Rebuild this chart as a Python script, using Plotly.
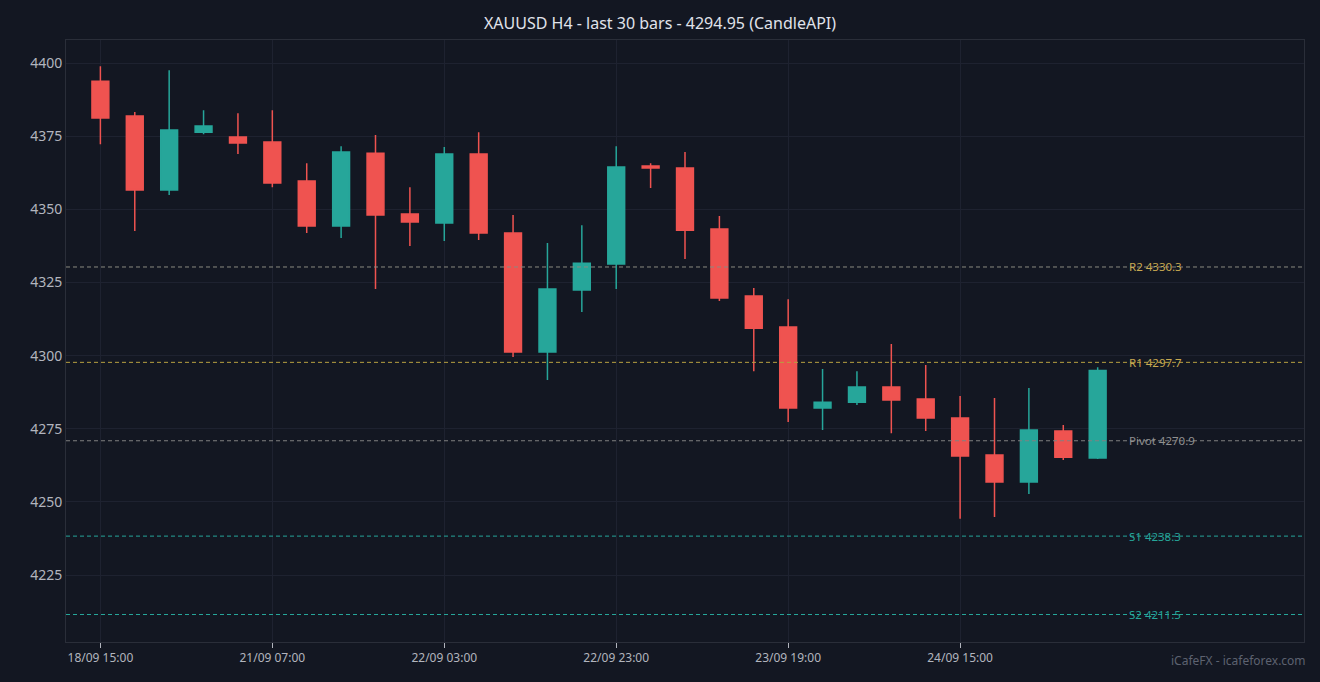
import plotly.graph_objects as go

opens  = [4393.8, 4381.9, 4356.6, 4376.4, 4374.7, 4373.0, 4359.7, 4344.3, 4369.2, 4348.4,
          4345.3, 4368.9, 4341.9, 4301.2, 4322.4, 4331.3, 4364.8, 4364.1, 4343.3, 4320.4,
          4309.8, 4282.1, 4284.1, 4289.3, 4285.2, 4278.7, 4266.0, 4256.8, 4274.2, 4265.0]
highs  = [4398.9, 4383.3, 4397.6, 4383.9, 4382.9, 4383.9, 4365.8, 4371.6, 4375.4, 4357.6,
          4371.3, 4376.4, 4348.1, 4338.5, 4344.6, 4371.6, 4365.8, 4369.6, 4347.7, 4323.1,
          4319.3, 4295.4, 4294.7, 4304.0, 4296.8, 4286.2, 4285.5, 4288.9, 4276.3, 4296.0]
lows   = [4372.3, 4342.6, 4354.9, 4375.7, 4368.9, 4357.6, 4341.9, 4340.2, 4322.8, 4337.5,
          4339.2, 4339.5, 4299.5, 4291.7, 4314.9, 4322.8, 4357.3, 4333.0, 4318.7, 4294.7,
          4277.3, 4274.6, 4283.1, 4273.5, 4274.2, 4244.2, 4244.8, 4252.7, 4264.3, 4264.7]
closes = [4381.2, 4356.6, 4377.1, 4378.5, 4372.7, 4359.0, 4344.3, 4369.6, 4348.1, 4345.7,
          4368.9, 4341.9, 4301.2, 4322.8, 4331.6, 4364.5, 4364.1, 4342.9, 4319.7, 4309.4,
          4282.1, 4284.1, 4289.3, 4284.8, 4278.7, 4265.7, 4256.8, 4274.6, 4265.3, 4294.95]

tick_idx = [0, 5, 10, 15, 20, 25]
tick_labels = ["18/09 15:00", "21/09 07:00", "22/09 03:00", "22/09 23:00", "23/09 19:00", "24/09 15:00"]

level_names = ["R2", "R1", "Pivot", "S1", "S2"]
level_values = [4330.3, 4297.7, 4270.9, 4238.3, 4211.5]
level_line_colors = ["#8a8a80", "#b8a040", "#808080", "#26a69a", "#26a69a"]
level_text_colors = ["#c8a951", "#c8a951", "#909090", "#26a69a", "#26a69a"]

bg = "#131722"
x = list(range(len(opens)))

fig = go.Figure()
fig.add_trace(go.Candlestick(
    x=x, open=opens, high=highs, low=lows, close=closes,
    increasing=dict(line=dict(color="#26a69a", width=1.5), fillcolor="#26a69a"),
    decreasing=dict(line=dict(color="#ef5350", width=1.5), fillcolor="#ef5350"),
    whiskerwidth=0, showlegend=False))

for name, val, lc, tc in zip(level_names, level_values, level_line_colors, level_text_colors):
    fig.add_hline(y=val, line=dict(color=lc, width=1, dash="4px,3px"))
    fig.add_annotation(x=29.85, y=val, text=f"{name} {val}", showarrow=False,
                       xanchor="left", font=dict(color=tc, size=11.5))

fig.add_annotation(x=1, y=0, xref="paper", yref="paper", yshift=-29, xshift=4,
                   text="iCafeFX - icafeforex.com", showarrow=False,
                   xanchor="right", font=dict(color="#5d6270", size=12))

fig.update_layout(
    width=1320, height=682,
    paper_bgcolor=bg, plot_bgcolor=bg,
    title=dict(text="XAUUSD H4 - last 30 bars - 4294.95 (CandleAPI)", x=0.5, y=0.965,
               yanchor="middle", font=dict(color="#e0e3eb", size=16)),
    margin=dict(l=66, r=16, t=40, b=40),
    font=dict(family="Noto Sans, sans-serif", color="#b2b5be"),
    xaxis=dict(rangeslider_visible=False, range=[-1, 35], tickvals=tick_idx, ticktext=tick_labels,
               gridcolor="#1e2230", showline=True, linecolor="#2a2e39", mirror=True,
               ticks="outside", tickcolor="#b2b5be", ticklen=5, tickfont=dict(size=12),
               zeroline=False),
    yaxis=dict(range=[4202.1, 4407.9], dtick=25, gridcolor="#1e2230", showline=True,
               linecolor="#2a2e39", mirror=True, tickfont=dict(size=14), zeroline=False),
)

fig.write_html("out.html", config={"displayModeBar": False}, post_script=(
    "document.body.style.margin='0';document.body.style.background='%s';" % bg))
